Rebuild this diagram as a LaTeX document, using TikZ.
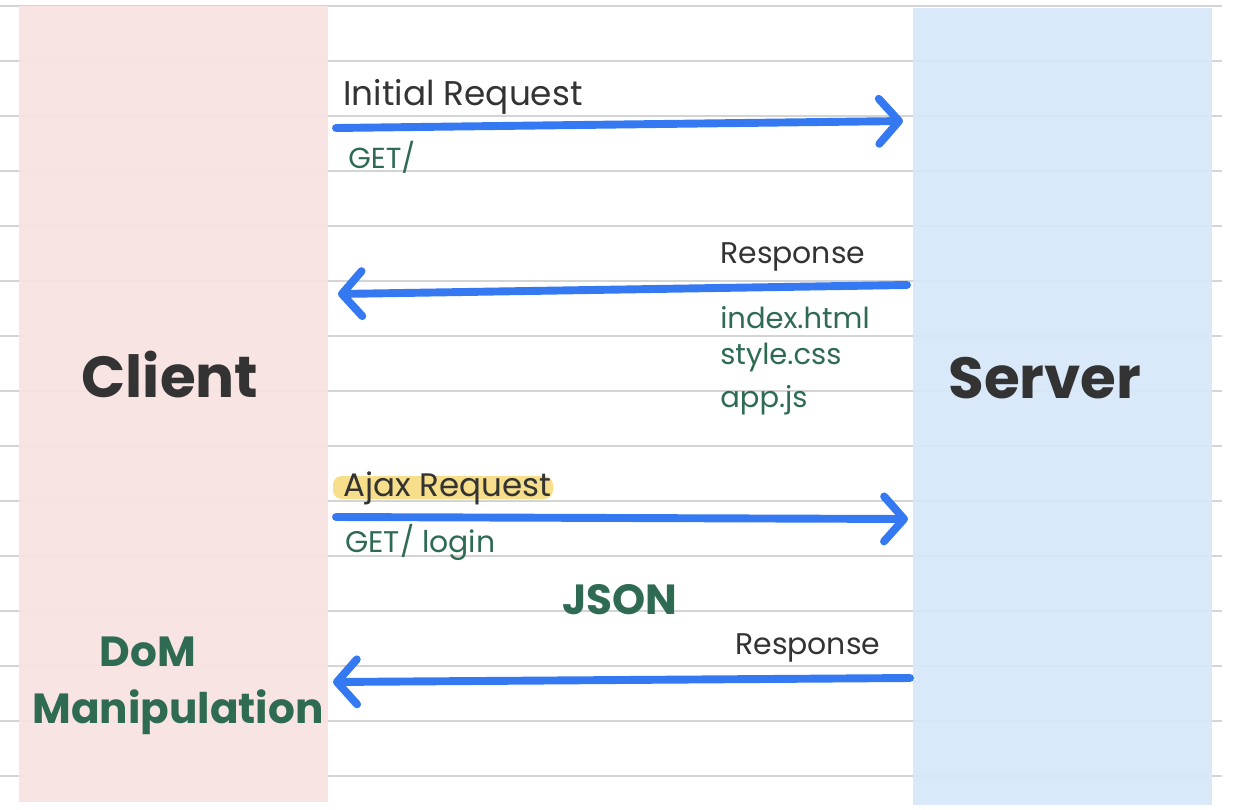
\documentclass[tikz,border=0pt]{standalone}
\usepackage{fontspec}
\setmainfont{Poppins}
\usetikzlibrary{arrows.meta}

\definecolor{penblue}{HTML}{3478F2}
\definecolor{pengreen}{HTML}{2E6B52}
\definecolor{penink}{HTML}{333333}
\definecolor{clientpink}{HTML}{F9E3E3}
\definecolor{serverblue}{HTML}{D8E8F9}
\definecolor{rulegray}{HTML}{D4D4D4}
\definecolor{marker}{HTML}{F7DE8A}

\begin{document}
\begin{tikzpicture}[x=0.02cm, y=-0.02cm,
    msg/.style={penblue, line width=4.5pt, line cap=round,
        -{Straight Barb[length=4mm, width=9mm, round, line width=4.5pt]}},
    ink/.style={penink, font=\fontsize{17}{19}\selectfont, anchor=west, inner sep=0pt},
    file/.style={pengreen, font=\fontsize{16.5}{19}\selectfont, anchor=west, inner sep=0pt},
    big/.style={penink, font=\fontsize{33}{36}\selectfont\bfseries, inner sep=0pt},
    note/.style={pengreen, font=\fontsize{24}{28}\selectfont\bfseries, inner sep=0pt}]

    \useasboundingbox (0,0) rectangle (1235,809);
    \fill[white] (0,0) rectangle (1235,809);

    % Ruled paper
    \foreach \k in {0,...,14}
        \draw[rulegray, line width=0.6pt] (0,{6+55*\k}) -- (1222,{6+55*\k});

    % Client and server columns
    \fill[clientpink, opacity=0.95] (19,6) rectangle (328,802);
    \fill[serverblue, opacity=0.95] (913,8) rectangle (1212,805);
    \node[big] (client) at (170,375) {Client};
    \node[big] (server) at (1045,378) {Server};

    % End points of the messages
    \coordinate (req1) at (336,128);
    \coordinate (req1end) at (903,121);
    \coordinate (res1) at (907,285);
    \coordinate (res1end) at (338,294);
    \coordinate (req2) at (336,517);
    \coordinate (req2end) at (908,519);
    \coordinate (res2) at (910,678);
    \coordinate (res2end) at (333,682);

    % Initial request
    \draw[msg] (req1) -- (req1end);
    \node[ink, font=\fontsize{19.5}{22}\selectfont] (initial) at (343,97) {Initial Request};
    \node[file] (get) at (348,157) {GET/};

    % First response
    \draw[msg] (res1) -- (res1end);
    \node[ink] (response) at (720,257) {Response};
    \node[file] (index) at (720,318) {index.html};
    \node[file] (style) at (720,358) {style.css};
    \node[file] (appjs) at (720,400) {app.js};

    % Ajax request
    \fill[marker, rounded corners=5pt] (333,476) rectangle (553,499);
    \draw[msg] (req2) -- (req2end);
    \node[ink, font=\fontsize{18.5}{20}\selectfont] (ajax) at (343,488) {Ajax Request};
    \node[file, font=\fontsize{17}{19}\selectfont] (login) at (345,542) {GET/ login};

    % Second response
    \node[note] (json) at (620,600) {JSON};
    \draw[msg] (res2) -- (res2end);
    \node[ink] (response2) at (735,648) {Response};

    % What the client does with it
    \node[note] (dom) at (148,652) {DoM};
    \node[note] (manip) at (178,712) {Manipulation};

\end{tikzpicture}
\end{document}
